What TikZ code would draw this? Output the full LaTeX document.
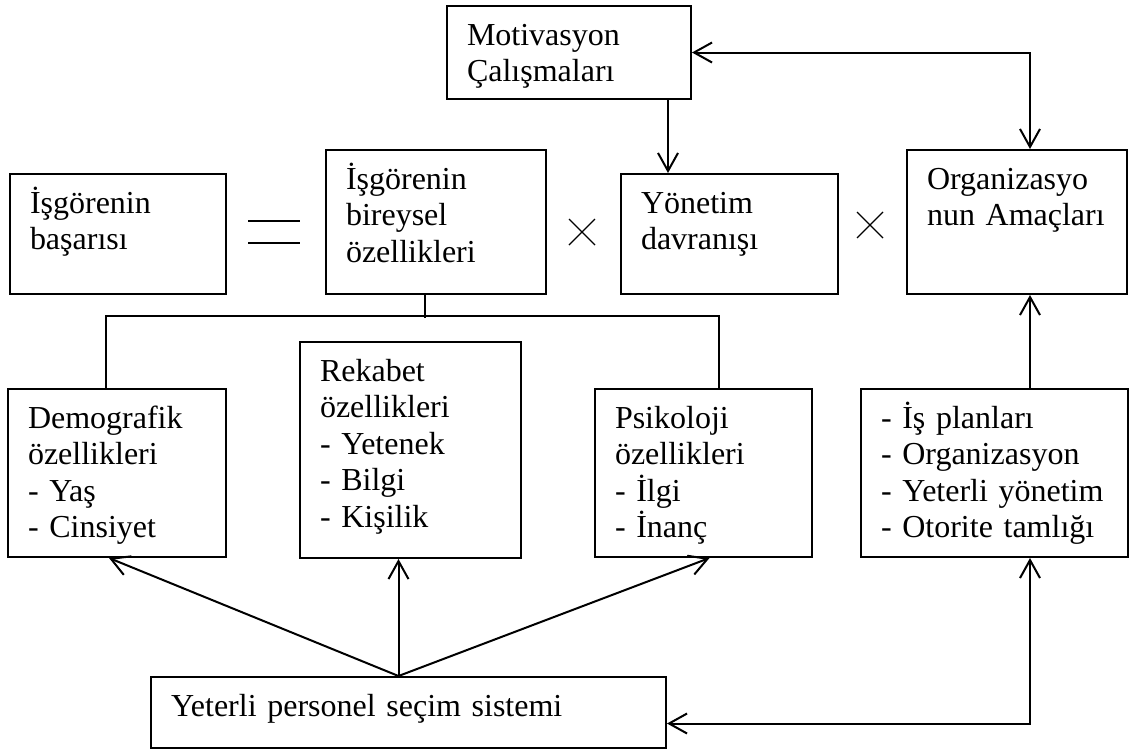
\documentclass[tikz,border=0pt]{standalone}
\usepackage{fontspec}
\setmainfont{Liberation Serif}
\usetikzlibrary{arrows.meta}

\tikzset{
  kutu/.style={draw, line width=1pt, anchor=north west, align=left,
    inner xsep=10pt, inner ysep=0pt, text height=19.5pt,
    font=\fontsize{16pt}{18.3pt}\selectfont},
  isaret/.style={-, line width=0.6pt}
}

\begin{document}
\begin{tikzpicture}[x=0.5pt, y=-0.5pt, line width=1pt, ->, >={Straight Barb[length=9pt,width=10pt]}]
    \useasboundingbox (0,0) rectangle (1130,751);
    \path
    (446,5) node[kutu, text width=102pt, text depth=27pt] (motiv) {Motivasyon\\Çalışmaları}
    (9,173) node[kutu, text width=88pt, text depth=40.5pt] (basari) {İşgörenin\\başarısı}
    (325,149) node[kutu, text width=90pt, text depth=52.5pt] (bireysel) {İşgörenin\\bireysel\\özellikleri}
    (620,173) node[kutu, text width=88.5pt, text depth=40.5pt] (yonetim) {Yönetim\\davranışı}
    (906,149) node[kutu, text width=90pt, text depth=52.5pt] (org) {Organizasyo\\nun Amaçları};
    \path
    (7,388) node[kutu, text width=89pt, text depth=64.5pt] (demog) {Demografik\\özellikleri\\- Yaş\\- Cinsiyet}
    (299,341) node[kutu, text width=90.5pt, text depth=88.5pt] (rekabet) {Rekabet\\özellikleri\\- Yetenek\\- Bilgi\\- Kişilik}
    (594,388) node[kutu, text width=88.5pt, text depth=64.5pt] (psiko) {Psikoloji\\özellikleri\\- İlgi\\- İnanç}
    (860,388) node[kutu, text width=113.5pt, text depth=64.5pt] (isplan) {- İş planları\\- Organizasyon\\- Yeterli yönetim\\- Otorite tamlığı}
    (150,676) node[kutu, text width=237.5pt, text depth=16pt] (personel) {Yeterli personel seçim sistemi};

    % = ve x isaretleri
    \draw[isaret] (248,221) -- (300,221) (248,243) -- (300,243);
    \draw[isaret] (569,219) -- (595,245) (569,245) -- (595,219);
    \draw[isaret] (857,212) -- (883,238) (857,238) -- (883,212);

    \coordinate (sag) at (1030,0);
    \coordinate (mk) at ([xshift=-12pt]motiv.south east);
    \draw (mk) -- (mk |- yonetim.north);
    \draw[<->] (motiv.east) -| (org.north -| sag);
    \draw (isplan.north -| sag) -- (org.south -| sag);
    \draw[<->] ([yshift=-5.5pt]personel.east) -| (isplan.south -| sag);

    % bireysel ozellikler
    \draw[-] ([xshift=-5.5pt]bireysel.south) -- ++(0,23);
    \draw[-] ([xshift=-5.5pt]demog.north) -- ++(0,-72) -| ([xshift=7.5pt]psiko.north);

    \coordinate (pk) at ([xshift=-5pt]personel.north);
    \draw (pk) -- ([xshift=-4pt]demog.south);
    \draw (pk) -- (pk |- rekabet.south);
    \draw (pk) -- ([xshift=3pt]psiko.south);
\end{tikzpicture}
\end{document}
